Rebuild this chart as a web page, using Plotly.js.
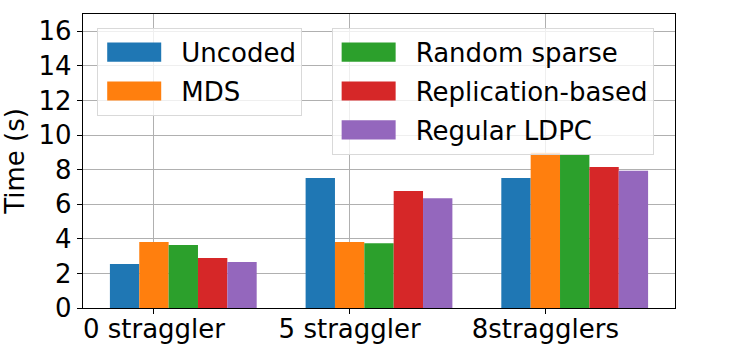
<!DOCTYPE html>
<html>
<head>
<meta charset="utf-8">
<script src="https://cdn.plot.ly/plotly-3.0.1.min.js"></script>
<style>
  html, body { margin: 0; padding: 0; background: #fff; }
  #chart { width: 750px; height: 350px; }
</style>
</head>
<body>
<div id="chart"></div>
<script>
// Categories and tick labels
const groups = [0, 1, 2];
const groupLabels = ['0 straggler', '5 straggler', '8stragglers'];

// Time (s) per scheme
const uncoded = [2.54, 7.51, 7.51];
const mds = [3.81, 3.81, 8.97];
const randomSparse = [3.64, 3.75, 8.84];
const replication = [2.89, 6.76, 8.15];
const regularLdpc = [2.66, 6.35, 7.93];

const names = ['Uncoded', 'MDS', 'Random sparse', 'Replication-based', 'Regular LDPC'];
const colors = ['#1f77b4', '#ff7f0e', '#2ca02c', '#d62728', '#9467bd'];
const series = [uncoded, mds, randomSparse, replication, regularLdpc];
const legendOf = ['legend', 'legend', 'legend2', 'legend2', 'legend2'];

const barW = 0.15;
const font = { family: 'DejaVu Sans, sans-serif', size: 26, color: '#000' };

const traces = series.map((vals, k) => ({
    type: 'bar',
    name: names[k],
    x: groups,
    y: vals,
    width: barW,
    offset: -0.225 + k * barW,
    marker: { color: colors[k], line: { width: 0 } },
    legend: legendOf[k],
    legendgroup: 'g' + k
}));

const legendStyle = {
    font: font,
    bgcolor: 'rgba(255,255,255,0.8)',
    bordercolor: '#d9d9d9',
    borderwidth: 1,
    xanchor: 'left',
    yanchor: 'top',
    itemwidth: 73,
    tracegroupgap: 2
};

const layout = {
    width: 750,
    height: 350,
    margin: { l: 83, r: 75, t: 14, b: 42 },
    paper_bgcolor: '#fff',
    plot_bgcolor: '#fff',
    font: font,
    barmode: 'overlay',
    xaxis: {
        range: [-0.3625, 2.6625],
        tickvals: groups,
        ticktext: groupLabels,
        showgrid: true,
        gridcolor: '#b0b0b0',
        gridwidth: 1,
        zeroline: false,
        showline: true,
        linecolor: '#000',
        linewidth: 1.3,
        mirror: true,
        ticks: 'outside',
        ticklen: 5,
        tickcolor: '#000',
        tickfont: font,
        ticklabelstandoff: -8
    },
    yaxis: {
        range: [0, 17],
        tickvals: [0, 2, 4, 6, 8, 10, 12, 14, 16],
        showgrid: true,
        gridcolor: '#b0b0b0',
        gridwidth: 1,
        zeroline: false,
        showline: true,
        linecolor: '#000',
        linewidth: 1.3,
        mirror: true,
        ticks: 'outside',
        ticklen: 5,
        tickcolor: '#000',
        tickfont: font,
        title: { text: 'Time (s)', font: font, standoff: 9 }
    },
    legend: Object.assign({}, legendStyle, { x: 0.024, y: 0.953 }),
    legend2: Object.assign({}, legendStyle, { x: 0.42, y: 0.953 }),
    showlegend: true
};

Plotly.newPlot('chart', traces, layout, { displayModeBar: false, staticPlot: true }).then(() => {
    // matplotlib-style wide legend patches
    document.querySelectorAll('g.legendpoints path').forEach(p => {
        p.setAttribute('transform', 'translate(36,0) scale(4.5,1.6)');
    });
});
</script>
</body>
</html>
